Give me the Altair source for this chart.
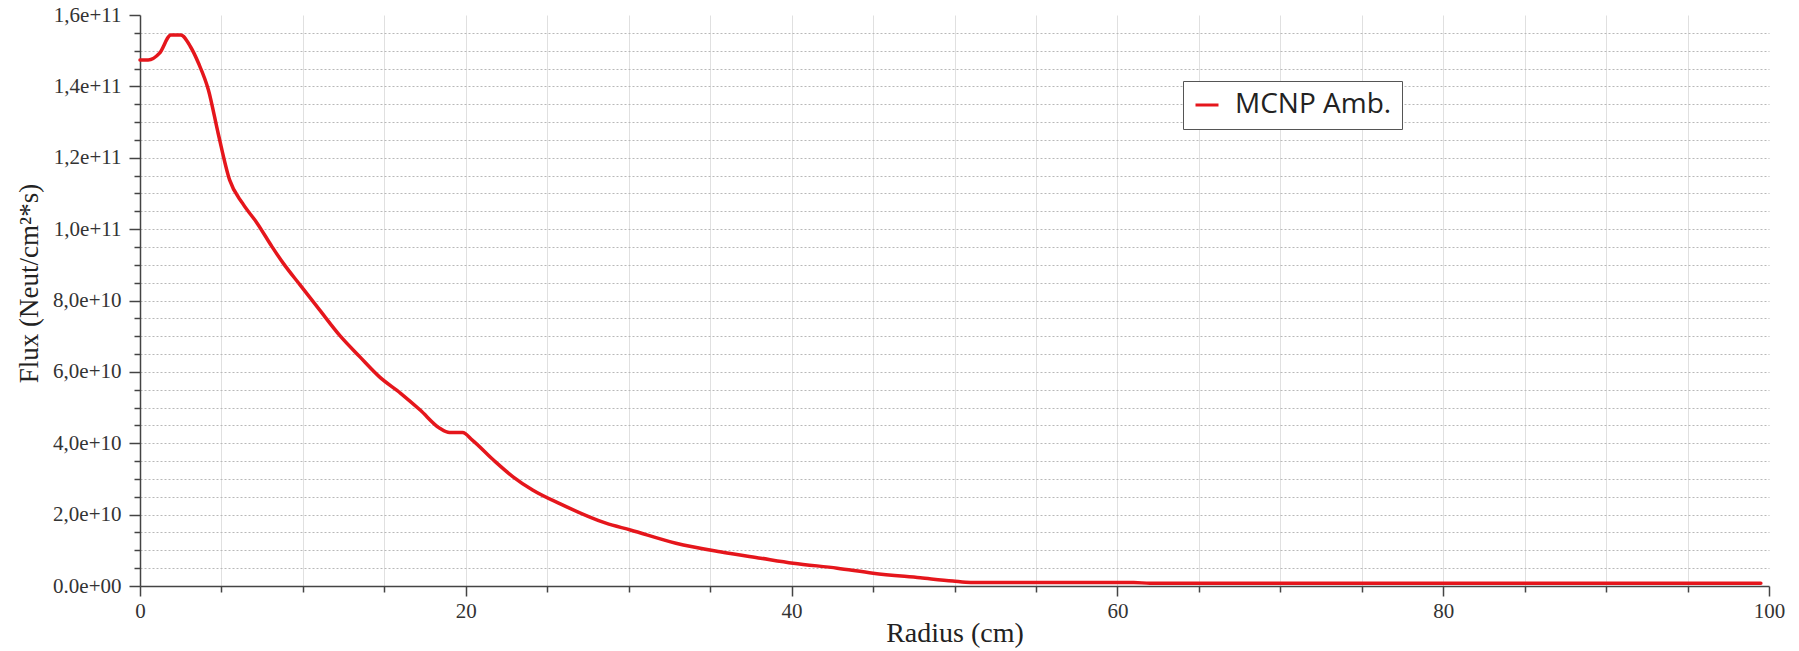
import altair as alt
import pandas as pd

# Radius (cm) and flux (in units of 1e9 neutrons/cm^2/s)
radius = [0, 0.5, 1.2, 1.9, 2.5, 3.1, 3.6, 4.2, 4.8, 5.5, 6.3, 7.2, 8.1, 8.8, 9.8,
          11.0, 12.3, 13.5, 14.7, 16.0, 17.2, 18.4, 19.0, 19.8, 20.4, 21.7, 22.9,
          24.1, 25.8, 28.6, 30.1, 32.9, 35.6, 38.1, 40.1, 42.8, 45.0, 47.9, 49.9,
          51.0, 61.0, 62.0, 99.5]
flux_e9 = [147.4, 147.4, 149.3, 154.4, 154.4, 151.1, 146.4, 139.0, 126.8, 113.8,
           107.2, 101.6, 95.1, 90.4, 84.5, 77.5, 70.0, 64.2, 58.6, 54.0, 49.3, 44.2,
           43.0, 43.0, 40.9, 35.3, 30.6, 26.9, 23.0, 17.6, 15.7, 12.0, 9.6, 7.8, 6.4,
           5.0, 3.6, 2.3, 1.4, 1.0, 1.0, 0.75, 0.75]
series_name = "MCNP Amb."

x_ticks = list(range(0, 101, 5))
y_ticks = [i * 5_000_000_000 for i in range(0, 33)]

df = pd.DataFrame({
    "radius": radius,
    "flux": [v * 1e9 for v in flux_e9],
    "series": [series_name] * len(radius),
})

serif = "Liberation Serif"

x_axis = alt.Axis(
    values=x_ticks,
    format="d",
    labelExpr="datum.value % 20 === 0 ? datum.label : ''",
    labelFont=serif, labelFontSize=21, labelColor="#333", labelPadding=4,
    labelFlush=False,
    tickSize={"condition": {"test": "datum.value % 20 === 0", "value": 10}, "value": 6},
    tickColor="#444", tickWidth=1.5,
    domainColor="#444", domainWidth=1.5,
    grid=True, gridColor="#e0e0e0", gridWidth=1,
    gridOpacity={"condition": {"test": "datum.value === 0 || datum.value === 100", "value": 0}, "value": 1},
    title="Radius (cm)", titleFont=serif, titleFontSize=28, titleFontWeight="normal",
    titleColor="#222", titleY=47, titleBaseline="middle",
)

y_axis = alt.Axis(
    values=y_ticks,
    labelExpr=("datum.value % 20000000000 === 0 ? (datum.value === 0 ? '0.0e+00' : "
               "replace(format(datum.value, '.1e'), '.', ',')) : ''"),
    labelFont=serif, labelFontSize=21, labelColor="#333", labelPadding=8,
    labelFlush=False,
    tickSize={"condition": {"test": "datum.value % 20000000000 === 0", "value": 11}, "value": 6},
    tickColor="#444", tickWidth=1.5,
    domainColor="#444", domainWidth=1.5,
    grid=True, gridColor="#b8b8b8", gridWidth=1, gridDash=[2, 2],
    gridOpacity={"condition": {"test": "datum.value === 0 || datum.value >= 160000000000", "value": 0}, "value": 1},
    title="Flux (Neut/cm²*s)", titleFont=serif, titleFontSize=27, titleFontWeight="normal",
    titleColor="#222", titleAngle=270, titleX=-111, titleY=268,
    titleBaseline="middle", titleAlign="center",
)

chart = alt.Chart(df).mark_line(
    strokeWidth=3.5, interpolate="monotone", strokeJoin="round", strokeCap="round"
).encode(
    x=alt.X("radius:Q", scale=alt.Scale(domain=[0, 100], nice=False), axis=x_axis),
    y=alt.Y("flux:Q", scale=alt.Scale(domain=[0, 1.6e11], nice=False), axis=y_axis),
    color=alt.Color(
        "series:N",
        scale=alt.Scale(domain=[series_name], range=["#e5161c"]),
        legend=alt.Legend(
            title=None, orient="none", legendX=1043, legendY=66,
            strokeColor="#555", fillColor="white", padding=10,
            symbolType="stroke", symbolStrokeWidth=3, symbolSize=529,
            labelFont="Open Sans", labelFontSize=28, labelColor="#222",
            labelOffset=14,
        ),
    ),
).properties(
    width=1629, height=571,
    padding={"left": 140, "top": 15, "right": 30, "bottom": 65},
    autosize=alt.AutoSizeParams(type="none"),
    background="white",
).configure_view(stroke=None)

chart.save("out.html", embed_options={"renderer": "svg", "actions": False})
